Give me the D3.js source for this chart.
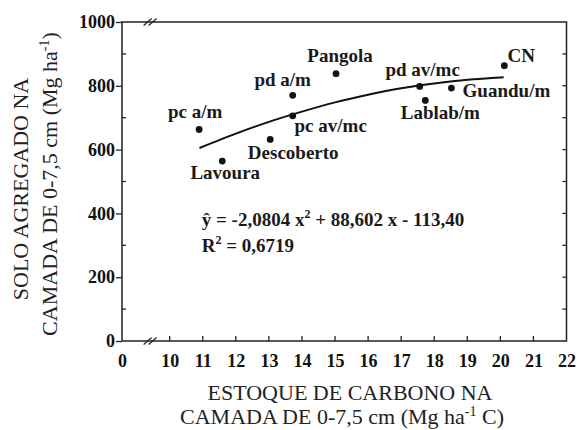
<!DOCTYPE html>
<html>
<head>
<meta charset="utf-8">
<script src="https://cdn.jsdelivr.net/npm/d3@7"></script>
<style>
  body { margin: 0; background: #fff; }
  svg { display: block; font-family: "Liberation Serif", "Times New Roman", serif; }
  .tick text { font-family: "Liberation Serif", "Times New Roman", serif; font-size: 18px; font-weight: bold; }
</style>
</head>
<body>
<div id="chart"></div>
<script>
// treatments, carbon stock (x) and aggregated soil (y)
const names = ['pc a/m', 'Lavoura', 'Descoberto', 'pd a/m', 'pc av/mc', 'Pangola', 'pd av/mc', 'Lablab/m', 'Guandu/m', 'CN'];
const carbon = [10.89, 11.59, 13.04, 13.72, 13.72, 15.03, 17.56, 17.73, 18.52, 20.12];
const soil = [663, 564, 632, 770, 706, 838, 798, 754, 793, 863];

// fitted curve
const fitX = [10.9, 12, 13, 14, 15, 16, 17, 18, 19, 20.1];
const fitY = [605, 650, 687, 719, 748, 772, 792, 807, 819, 827];

const xTicks = [0, 10, 11, 12, 13, 14, 15, 16, 17, 18, 19, 20, 21, 22];
const yTicks = [0, 200, 400, 600, 800, 1000];
const yMinor = [100, 300, 500, 700, 900];

const width = 577, height = 430;
const ink = '#222';
const serif = '"Liberation Serif", "Times New Roman", serif';

// label offsets from each point (px)
const labelOffsets = [
  [-4, -12], [3, 18], [23, 20], [-10, -9], [38, 16],
  [4, -12], [3, -10], [15, 19], [55, 9], [17, -4]
];

const svg = d3.select('#chart').append('svg')
  .attr('width', width)
  .attr('height', height);

// broken x axis: 0 then 10..22
const x = d3.scaleLinear()
  .domain([0, 10, 22])
  .range([122, 169.7, 566.5]);
const y = d3.scaleLinear()
  .domain([0, 1000])
  .range([341, 22]);

// frame
svg.append('rect')
  .attr('x', x(0))
  .attr('y', y(1000))
  .attr('width', x(22) - x(0))
  .attr('height', y(0) - y(1000))
  .attr('fill', 'none')
  .attr('stroke', ink)
  .attr('stroke-width', 1.5);

// left axis
const left = svg.append('g')
  .attr('transform', `translate(${x(0)},0)`)
  .call(d3.axisLeft(y).tickValues(yTicks).tickFormat(d3.format('d')).tickSize(6).tickPadding(1));
left.select('.domain').remove();
left.attr('font-family', serif).attr('font-size', 18).attr('font-weight', 'bold');
left.selectAll('line').attr('stroke', ink).attr('stroke-width', 1.3);
left.selectAll('text').attr('fill', '#111');

svg.append('g').selectAll('line')
  .data(yMinor)
  .join('line')
    .attr('x1', x(0)).attr('x2', x(0) + 4)
    .attr('y1', d => y(d)).attr('y2', d => y(d))
    .attr('stroke', ink).attr('stroke-width', 1.3);

// right axis, inner ticks
svg.append('g').selectAll('line')
  .data(d3.range(100, 1000, 100))
  .join('line')
    .attr('x1', x(22)).attr('x2', x(22) - 4)
    .attr('y1', d => y(d)).attr('y2', d => y(d))
    .attr('stroke', ink).attr('stroke-width', 1.3);

// bottom axis
const bottom = svg.append('g')
  .attr('transform', `translate(0,${y(0)})`)
  .call(d3.axisBottom(x).tickValues(xTicks).tickFormat(d3.format('d')).tickSize(0).tickPadding(13));
bottom.select('.domain').remove();
bottom.attr('font-family', serif).attr('font-size', 18).attr('font-weight', 'bold');
bottom.selectAll('text').attr('fill', '#111');

svg.append('g').selectAll('line')
  .data(xTicks.filter(d => d > 0 && d < 22))
  .join('line')
    .attr('x1', d => x(d)).attr('x2', d => x(d))
    .attr('y1', y(0)).attr('y2', y(0) - 5)
    .attr('stroke', ink).attr('stroke-width', 1.3);

// axis break marks
const breakX = x(5.9);
[y(0), y(1000)].forEach(by => {
  [-2.5, 2.5].forEach(off => {
    svg.append('line')
      .attr('x1', breakX + off - 4).attr('y1', by + 3.5)
      .attr('x2', breakX + off + 4).attr('y2', by - 3.5)
      .attr('stroke', ink).attr('stroke-width', 1.2);
  });
});

// fitted curve
const line = d3.line()
  .x(d => x(d[0]))
  .y(d => y(d[1]))
  .curve(d3.curveNatural);
svg.append('path')
  .datum(fitX.map((v, i) => [v, fitY[i]]))
  .attr('d', line)
  .attr('fill', 'none')
  .attr('stroke', '#111')
  .attr('stroke-width', 2);

// points
const pts = names.map((n, i) => ({ name: n, cx: carbon[i], cy: soil[i], off: labelOffsets[i] }));
svg.append('g').selectAll('circle')
  .data(pts)
  .join('circle')
    .attr('cx', d => x(d.cx))
    .attr('cy', d => y(d.cy))
    .attr('r', 3.4)
    .attr('fill', '#111');

svg.append('g').selectAll('text')
  .data(pts)
  .join('text')
    .attr('x', d => x(d.cx) + d.off[0])
    .attr('y', d => y(d.cy) + d.off[1])
    .attr('text-anchor', 'middle')
    .attr('fill', '#1a1a1a')
    .style('font-size', '19px')
    .style('font-weight', 'bold')
    .text(d => d.name);

// equation
const eq = svg.append('text')
  .attr('x', x(11) - 1)
  .attr('y', y(360))
  .attr('fill', '#1a1a1a')
  .style('font-size', '19px')
  .style('font-weight', 'bold');
eq.append('tspan').text('ŷ = -2,0804 x');
eq.append('tspan').attr('dy', -8).style('font-size', '12px').text('2');
eq.append('tspan').attr('dy', 8).text(' + 88,602 x - 113,40');

const r2 = svg.append('text')
  .attr('x', x(11) - 1)
  .attr('y', y(280))
  .attr('fill', '#1a1a1a')
  .style('font-size', '19px')
  .style('font-weight', 'bold');
r2.append('tspan').text('R');
r2.append('tspan').attr('dy', -8).style('font-size', '12px').text('2');
r2.append('tspan').attr('dy', 8).text(' = 0,6719');

// axis titles
const xTitle = svg.append('g')
  .attr('fill', '#222')
  .style('font-size', '22px')
  .attr('text-anchor', 'middle');
xTitle.append('text')
  .attr('x', 350).attr('y', 400)
  .text('ESTOQUE DE CARBONO NA');
const xt2 = xTitle.append('text').attr('x', 342).attr('y', 424);
xt2.append('tspan').text('CAMADA DE 0-7,5 cm (Mg ha');
xt2.append('tspan').attr('dy', -8).style('font-size', '14px').text('-1');
xt2.append('tspan').attr('dy', 8).text(' C)');

const yTitle = svg.append('g')
  .attr('fill', '#222')
  .style('font-size', '22px')
  .attr('text-anchor', 'middle');
yTitle.append('text')
  .attr('transform', 'translate(28,189) rotate(-90)')
  .text('SOLO AGREGADO NA');
const yt2 = yTitle.append('text')
  .attr('transform', 'translate(57,184) rotate(-90)');
yt2.append('tspan').text('CAMADA DE 0-7,5 cm (Mg ha');
yt2.append('tspan').attr('dy', -8).style('font-size', '14px').text('-1');
yt2.append('tspan').attr('dy', 8).text(')');
</script>
</body>
</html>
